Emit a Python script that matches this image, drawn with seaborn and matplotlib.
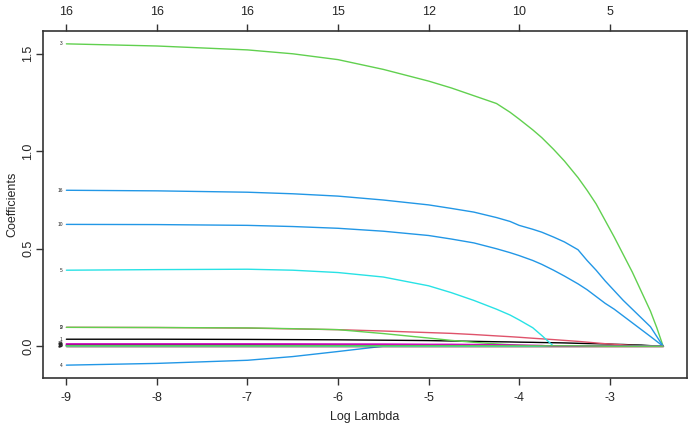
import matplotlib
matplotlib.use("Agg")
import matplotlib.pyplot as plt
import seaborn as sns
import pandas as pd

# ---------------- data ----------------
log_lambda = [-9, -8, -7, -6.5, -6, -5.5, -5, -4.75, -4.5,
              -4.25, -4.1, -4, -3.85, -3.75, -3.62, -3.5, -3.35, -3.25,
              -3.15, -3.05, -2.95, -2.85, -2.75, -2.65, -2.55, -2.48, -2.41]

coef_1 = [0.036, 0.036, 0.035, 0.034, 0.033, 0.031, 0.029, 0.027, 0.025,
          0.023, 0.022, 0.021, 0.020, 0.019, 0.018, 0.017, 0.015, 0.014,
          0.013, 0.012, 0.010, 0.009, 0.007, 0.006, 0.003, 0.002, 0]
coef_2 = [0.097, 0.096, 0.093, 0.089, 0.085, 0.078, 0.070, 0.066, 0.060,
          0.053, 0.049, 0.046, 0.041, 0.038, 0.034, 0.030, 0.025, 0.021,
          0.017, 0.013, 0.010, 0.007, 0.004, 0.002, 0, 0, 0]
coef_3 = [1.551, 1.540, 1.520, 1.500, 1.470, 1.420, 1.360, 1.325, 1.285,
          1.245, 1.200, 1.165, 1.110, 1.070, 1.010, 0.950, 0.865, 0.800,
          0.730, 0.645, 0.560, 0.470, 0.380, 0.280, 0.180, 0.095, 0]
coef_4 = [-0.097, -0.088, -0.072, -0.053, -0.027, 0, 0, 0, 0,
          0, 0, 0, 0, 0, 0, 0, 0, 0,
          0, 0, 0, 0, 0, 0, 0, 0, 0]
coef_5 = [0.390, 0.393, 0.395, 0.390, 0.378, 0.355, 0.310, 0.275, 0.235,
          0.190, 0.160, 0.135, 0.095, 0.055, 0, 0, 0, 0,
          0, 0, 0, 0, 0, 0, 0, 0, 0]
coef_6 = [0.008, 0.008, 0.008, 0.007, 0.006, 0.004, 0.002, 0, 0,
          0, 0, 0, 0, 0, 0, 0, 0, 0,
          0, 0, 0, 0, 0, 0, 0, 0, 0]
coef_7 = [0, 0, 0, 0, 0, 0, 0, 0, 0,
          0, 0, 0, 0, 0, 0, 0, 0, 0,
          0, 0, 0, 0, 0, 0, 0, 0, 0]
coef_8 = [0.004, 0.004, 0.004, 0.003, 0.002, 0.001, 0, 0, 0,
          0, 0, 0, 0, 0, 0, 0, 0, 0,
          0, 0, 0, 0, 0, 0, 0, 0, 0]
coef_9 = [0.097, 0.096, 0.094, 0.090, 0.085, 0.065, 0.042, 0.030, 0.020,
          0.012, 0.008, 0.005, 0.002, 0, 0, 0, 0, 0,
          0, 0, 0, 0, 0, 0, 0, 0, 0]
coef_10 = [0.625, 0.624, 0.620, 0.614, 0.605, 0.590, 0.568, 0.550, 0.530,
           0.500, 0.480, 0.465, 0.440, 0.420, 0.390, 0.360, 0.320, 0.290,
           0.255, 0.220, 0.190, 0.155, 0.120, 0.085, 0.050, 0.025, 0]
coef_11 = [0.003, 0.003, 0.003, 0.002, 0.002, 0.001, 0, 0, 0,
           0, 0, 0, 0, 0, 0, 0, 0, 0,
           0, 0, 0, 0, 0, 0, 0, 0, 0]
coef_12 = [0.011, 0.011, 0.011, 0.010, 0.010, 0.009, 0.008, 0.007, 0.005,
           0.003, 0.002, 0.001, 0, 0, 0, 0, 0, 0,
           0, 0, 0, 0, 0, 0, 0, 0, 0]
coef_13 = [0.005, 0.005, 0.005, 0.004, 0.004, 0.003, 0.002, 0.001, 0,
           0, 0, 0, 0, 0, 0, 0, 0, 0,
           0, 0, 0, 0, 0, 0, 0, 0, 0]
coef_14 = [0, 0, 0, 0, 0, 0, 0, 0, 0,
           0, 0, 0, 0, 0, 0, 0, 0, 0,
           0, 0, 0, 0, 0, 0, 0, 0, 0]
coef_15 = [0.002, 0.002, 0.002, 0.002, 0.002, 0.002, 0.002, 0.002, 0.002,
           0.002, 0.002, 0.002, 0.002, 0.002, 0.002, 0.002, 0.002, 0.001,
           0.001, 0, 0, 0, 0, 0, 0, 0, 0]
coef_16 = [0.800, 0.797, 0.790, 0.782, 0.770, 0.750, 0.725, 0.707, 0.688,
           0.660, 0.640, 0.620, 0.600, 0.585, 0.560, 0.535, 0.495, 0.440,
           0.390, 0.335, 0.285, 0.235, 0.190, 0.145, 0.100, 0.050, 0]
coef_17 = [0.001, 0.001, 0.001, 0.001, 0, 0, 0, 0, 0,
           0, 0, 0, 0, 0, 0, 0, 0, 0,
           0, 0, 0, 0, 0, 0, 0, 0, 0]
coef_18 = [0.012, 0.012, 0.012, 0.012, 0.011, 0.011, 0.010, 0.010, 0.009,
           0.008, 0.007, 0.006, 0.005, 0.004, 0, 0, 0, 0,
           0, 0, 0, 0, 0, 0, 0, 0, 0]

variables = ["1", "2", "3", "4", "5", "6", "7", "8", "9", "10", "11", "12",
             "13", "14", "15", "16", "17", "18"]
coefs = [coef_1, coef_2, coef_3, coef_4, coef_5, coef_6, coef_7, coef_8, coef_9,
         coef_10, coef_11, coef_12, coef_13, coef_14, coef_15, coef_16, coef_17,
         coef_18]

bottom_ticks = [-9, -8, -7, -6, -5, -4, -3]
top_df_labels = ["16", "16", "16", "15", "12", "10", "5"]
y_ticks = [0.0, 0.5, 1.0, 1.5]

# R default palette (matplot cycles 1:6)
r_palette = ["#000000", "#DF536B", "#61D04F", "#2297E6", "#28E2E5", "#CD0BBC"]

# ---------------- build long table ----------------
rows = []
for name, vals in zip(variables, coefs):
    for x, y in zip(log_lambda, vals):
        rows.append({"var": name, "log_lambda": x, "coef": y})
df = pd.DataFrame(rows)
palette = {v: r_palette[(int(v) - 1) % 6] for v in variables}

sns.set_style("white")
plt.rcParams["font.family"] = ["Liberation Sans", "DejaVu Sans"]

fig = plt.figure(figsize=(6.94, 4.40), dpi=100)
ax = fig.add_axes([42.5 / 694, 62 / 440, (687 - 42.5) / 694, (409 - 62) / 440])

sns.lineplot(data=df, x="log_lambda", y="coef", hue="var", hue_order=variables,
             palette=palette, estimator=None, sort=False, legend=False,
             linewidth=1.0, ax=ax)
for line, name in zip(ax.get_lines(), variables):
    if name == "15":
        line.set_zorder(5)

xmin, xmax = min(log_lambda), max(log_lambda)
xr = xmax - xmin
allv = [v for c in coefs for v in c]
ymin, ymax = min(allv), max(allv)
yr = ymax - ymin
ax.set_xlim(xmin - 0.04 * xr, xmax + 0.04 * xr)
ax.set_ylim(ymin - 0.04 * yr, ymax + 0.04 * yr)

# variable labels at left end (nonzero only)
for name, vals in zip(variables, coefs):
    if vals[0] != 0:
        ax.text(xmin - 0.04, vals[0], name, ha="right", va="center",
                fontsize=3.5, color="#222222")

ax.set_xticks(bottom_ticks)
ax.set_xticklabels([str(t) for t in bottom_ticks])
ax.set_yticks(y_ticks)
ax.set_yticklabels([f"{t:.1f}" for t in y_ticks], rotation=90, va="center")
ax.tick_params(axis="x", direction="out", length=5, width=1.0,
               color="#333333", labelsize=9, pad=5, bottom=True)
ax.tick_params(axis="y", direction="out", length=5, width=1.0,
               color="#333333", labelsize=9, pad=1, left=True)
ax.set_xlabel("Log Lambda", fontsize=9, labelpad=5)
ax.set_ylabel("Coefficients", fontsize=9, labelpad=3)

top = ax.secondary_xaxis("top")
top.set_xticks(bottom_ticks)
top.set_xticklabels(top_df_labels)
top.tick_params(direction="out", length=5, width=1.0, color="#333333",
                labelsize=9, pad=4)
top.spines["top"].set_visible(False)

for s in ax.spines.values():
    s.set_visible(True)
    s.set_color("#333333")
    s.set_linewidth(1.2)

fig.savefig("out.png", dpi=100, facecolor="white")
